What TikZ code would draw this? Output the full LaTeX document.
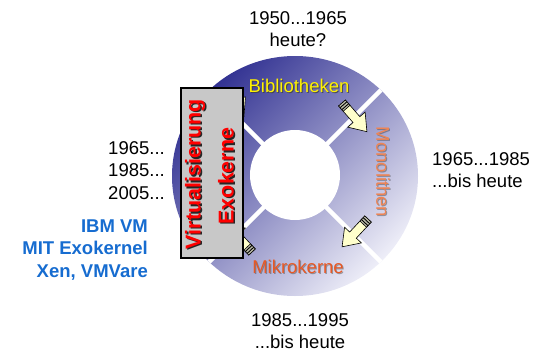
\documentclass[tikz,border=0pt]{standalone}
\usepackage{fontspec}
\setmainfont{Liberation Sans}
\definecolor{ringdark}{RGB}{50,50,146}
\definecolor{ringmid}{RGB}{136,136,198}
\definecolor{ringlight}{RGB}{238,238,248}
\definecolor{arrowfill}{RGB}{255,255,204}
\definecolor{tailgray}{RGB}{190,190,170}
\definecolor{boxgray}{RGB}{200,200,200}
\definecolor{eraBlue}{RGB}{22,108,208}
\definecolor{mikroOrange}{RGB}{232,88,36}
\definecolor{monoOrange}{RGB}{238,132,84}
\tikzset{
  txt/.style={inner sep=0pt, font=\fontsize{18.5}{22}\selectfont},
  bluetxt/.style={txt, text=eraBlue, font=\fontsize{18.5}{22}\selectfont\bfseries},
  ringlabel/.style={inner sep=0pt, font=\fontsize{18.5}{22}\selectfont},
  shadowtxt/.style={text=black!75, opacity=0.8},
  boxtxt/.style={inner sep=0pt, rotate=90, font=\fontsize{21.5}{24}\selectfont\bfseries},
  blockarrow/.pic={
    \filldraw[fill=arrowfill, draw=black, line width=0.6pt]
      (0,-4.5) -- (22,-4.5) -- (22,-11.5) -- (38,0) -- (22,11.5) -- (22,4.5) -- (0,4.5) -- cycle;
    \fill[tailgray] (0,-4.5) rectangle (7,4.5);
    \draw[line width=0.9pt] (2.3,-4.5) -- (2.3,4.5) (4.9,-4.5) -- (4.9,4.5);
    \draw[line width=0.6pt] (0,-4.5) rectangle (7,4.5);
  }
}
\begin{document}
\begin{tikzpicture}[x=1pt, y=-1pt]
\useasboundingbox (0,0) rectangle (535,351);

% shaded ring
\shade[shading=axis, top color=ringdark, middle color=ringmid, bottom color=ringlight, shading angle=45]
  (295,176) ellipse [x radius=123, y radius=120];

% white separators between the four quadrants
\begin{scope}
  \clip (295,176) ellipse [x radius=123, y radius=120];
  \draw[white, line width=4.5pt] (165,46) -- (425,306);
  \draw[white, line width=4.5pt] (165,306) -- (425,46);
\end{scope}

% hole in the middle
\fill[white] (295,175) circle (45);

% block arrows running clockwise
\pic[rotate=-49] at (342,103) {blockarrow};
\pic[rotate=-133] at (368,219) {blockarrow};
\pic[rotate=133] at (252,252) {blockarrow};
\pic[rotate=50] at (221,126) {blockarrow};

% ring labels
\node[ringlabel, shadowtxt, anchor=base] (biblioS) at (300,93) {Bibliotheken};
\node[ringlabel, text=yellow, anchor=base] (biblio) at (299,92) {Bibliotheken};
\node[ringlabel, shadowtxt, opacity=0.45, rotate=-90] (monoS) at (384,173) {Monolithen};
\node[ringlabel, text=monoOrange, rotate=-90] (mono) at (383,172) {Monolithen};
\node[ringlabel, shadowtxt, opacity=0.45, anchor=base] (mikroS) at (299,274) {Mikrokerne};
\node[ringlabel, text=mikroOrange, anchor=base] (mikro) at (298,273) {Mikrokerne};

% grey box on the left
\draw[fill=boxgray, line width=1.2pt] (181,88) rectangle (243,258);
\node[boxtxt, text=black!85] (virtS) at (196.5,175.5) {Virtualisierung};
\node[boxtxt, text=red] (virt) at (195,174) {Virtualisierung};
\node[boxtxt, text=black!85] (exoS) at (227.5,177.5) {Exokerne};
\node[boxtxt, text=red] (exo) at (226,176) {Exokerne};

% era annotations
\node[txt, anchor=base] (topA) at (298,24) {1950...1965};
\node[txt, anchor=base] (topB) at (298,46) {heute?};
\node[txt, anchor=base west] (rightA) at (432,165) {1965...1985};
\node[txt, anchor=base west] (rightB) at (432,187) {...bis heute};
\node[txt, anchor=base] (botA) at (300,326) {1985...1995};
\node[txt, anchor=base] (botB) at (300,348) {...bis heute};
\node[txt, anchor=base east] (leftA) at (165,154) {1965...};
\node[txt, anchor=base east] (leftB) at (165,176.5) {1985...};
\node[txt, anchor=base east] (leftC) at (165,199) {2005...};
\node[bluetxt, anchor=base east] (ibm) at (148,232) {IBM VM};
\node[bluetxt, anchor=base east] (mit) at (148,254.5) {MIT Exokernel};
\node[bluetxt, anchor=base east] (xen) at (148,277) {Xen, VMVare};
\end{tikzpicture}
\end{document}
